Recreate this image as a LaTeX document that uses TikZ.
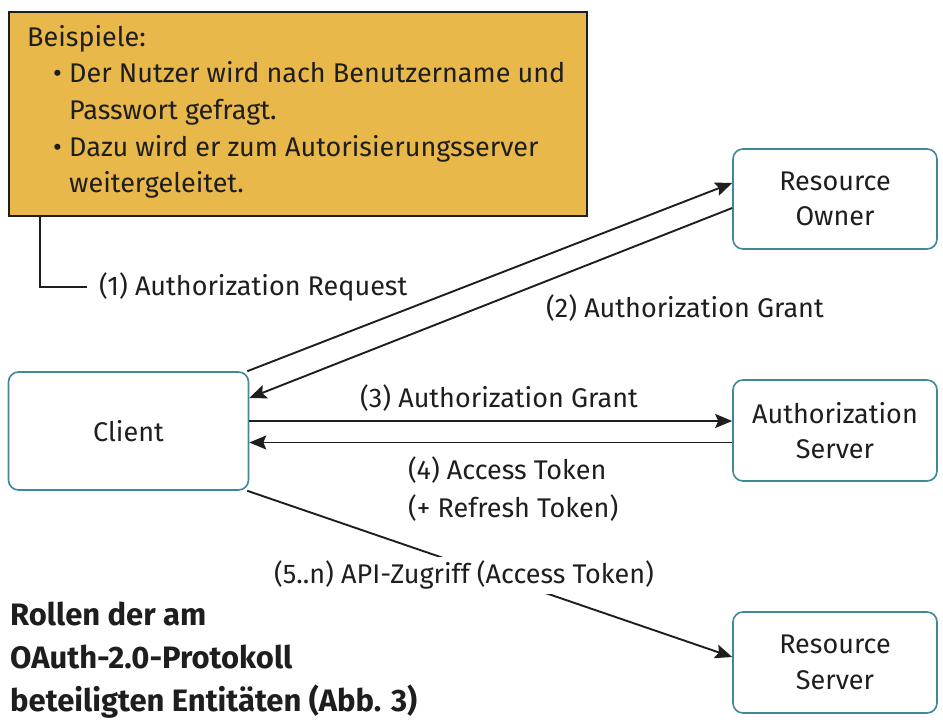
\documentclass[tikz,border=0pt]{standalone}
\usepackage{fontspec}
\setmainfont{Fira Sans}
\usetikzlibrary{arrows.meta}
\definecolor{notefill}{HTML}{E8B84B}
\definecolor{boxedge}{HTML}{3F8898}
\definecolor{ink}{HTML}{1E1E1E}
\begin{document}
\begin{tikzpicture}[x=1pt,y=-1pt,
  every node/.style={font=\fontsize{27}{32}\selectfont, text=ink},
  entity/.style={draw=boxedge, line width=1.6pt, rounded corners=10pt, fill=white, align=center, inner sep=0pt, font=\fontsize{27}{35.5}\selectfont},
  conn/.style={draw=ink, line width=1.9pt},
  arr/.style={conn, -{Stealth[length=17pt,width=14pt,inset=3pt]}},
  lbl/.style={inner sep=0pt, anchor=base},
  notetext/.style={inner sep=0pt, anchor=base west},
]
\useasboundingbox (0,0) rectangle (943,727);
% note box
\node[draw=ink, line width=1.6pt, fill=notefill, minimum width=578pt, minimum height=204pt, inner sep=0pt] (note) at (298,114) {};
\node[notetext] (n0) at (27,47) {Beispiele:};
\node[notetext] (b1) at (53,83) {•};
\node[notetext] (n1) at (69,83) {Der Nutzer wird nach Benutzername und};
\node[notetext] (n2) at (69,120) {Passwort gefragt.};
\node[notetext] (b2) at (53,157) {•};
\node[notetext] (n3) at (69,157) {Dazu wird er zum Autorisierungsserver};
\node[notetext] (n4) at (69,193) {weitergeleitet.};
% entities
\node[entity, minimum width=240pt, minimum height=118pt] (client) at (128.5,431) {Client};
\node[entity, minimum width=204pt, minimum height=100pt] (ro) at (835,199) {Resource\\Owner};
\node[entity, minimum width=204pt, minimum height=101pt] (as) at (835,430.5) {Authorization\\Server};
\node[entity, minimum width=204pt, minimum height=101pt] (rs) at (835,662.5) {Resource\\Server};
% (1)
\node[notetext] (req) at (99,296) {(1) Authorization Request};
\draw[conn] ([xshift=32pt]note.south west) |- ([xshift=-12pt,yshift=9pt]req.base west);
\draw[arr] ([xshift=-2pt]client.north east) -- ([yshift=16pt]ro.west);
% (2)
\draw[arr] ([yshift=-9pt]ro.west) -- ([yshift=33pt]client.east);
\node[lbl] (g2) at (685,318) {(2) Authorization Grant};
% (3)
\draw[arr] ([yshift=10pt]client.east) -- ([yshift=10pt]client.east -| as.west);
\node[lbl] (g3) at (499,408) {(3) Authorization Grant};
% (4)
\draw[arr] ([yshift=-12pt]as.west) -- ([yshift=-12pt]as.west -| client.east);
\node[align=left, inner sep=0pt, anchor=north west, font=\fontsize{27}{38}\selectfont] (g4) at (408,456) {(4) Access Token\\(+ Refresh Token)};
% (5)
\draw[arr] ([xshift=-2pt]client.south east) -- ([yshift=5.5pt]rs.west);
\node[fill=white, inner xsep=2pt, minimum height=37pt] (g5) at (464,575) {(5..n) API-Zugriff (Access Token)};
% title
\node[align=left, anchor=north west, inner sep=0pt, font=\fontsize{31}{43}\selectfont\bfseries] (title) at (10,602) {Rollen der am\\OAuth-2.0-Protokoll\\beteiligten Entitäten (Abb. 3)};
\end{tikzpicture}
\end{document}
